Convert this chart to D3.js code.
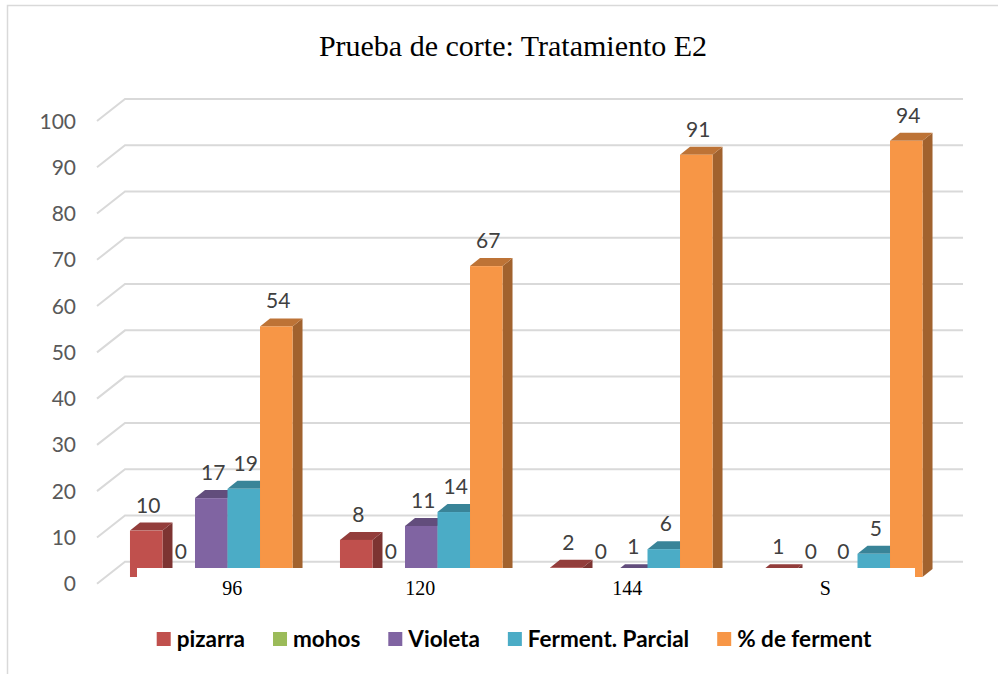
<!DOCTYPE html>
<html>
<head>
<meta charset="utf-8">
<script src="https://cdn.jsdelivr.net/npm/d3@7"></script>
<style>
  body { margin: 0; background: #fff; }
</style>
</head>
<body>
<script>
var width = 998,
    height = 674;

// data
var categories = ["96", "120", "144", "S"];
var series = ["pizarra", "mohos", "Violeta", "Ferment. Parcial", "% de ferment"];
var colors = ["#C0504D", "#9BBB59", "#8064A2", "#4BACC6", "#F79646"];
var pizarra = [10, 8, 2, 1];
var mohos = [0, 0, 0, 0];
var violeta = [17, 11, 1, 0];
var fermParcial = [19, 14, 6, 5];
var fermento = [54, 67, 91, 94];
var yTicks = [0, 10, 20, 30, 40, 50, 60, 70, 80, 90, 100];
var values = [pizarra, mohos, violeta, fermParcial, fermento];

// fake 3d depth
var wallDx = 28, wallDy = 22,   // back wall -> front edge
    barDx = 10, barDy = 8;      // bar depth

var svg = d3.select("body").append("svg")
    .attr("width", width)
    .attr("height", height)
    .style("font-family", "Lato, 'Noto Sans', sans-serif");

// chart border (left + top visible)
svg.append("path")
    .attr("d", "M7.5," + height + "V5.5H" + width)
    .attr("fill", "none")
    .attr("stroke", "#d9d9d9")
    .attr("stroke-width", 1.5);

svg.append("text")
    .attr("x", 513)
    .attr("y", 56)
    .attr("text-anchor", "middle")
    .style("font-family", "'Liberation Serif', 'Times New Roman', serif")
    .style("font-size", "30px")
    .attr("fill", "#000")
    .text("Prueba de corte: Tratamiento E2");

var yBack = d3.scaleLinear().domain([0, 100]).range([561.7, 99]);
var yBar = d3.scaleLinear().domain([0, 100]).range([577, 113]);

var x0 = d3.scaleBand()
    .domain(categories)
    .range([106.25, 946.25])
    .paddingInner(0.226)
    .paddingOuter(0.113);

var x1 = d3.scaleBand()
    .domain(series)
    .range([0, x0.bandwidth()])
    .padding(0);

var backLeft = 125, backRight = 963;

// gridlines on the back wall plus the diagonal side wall line
var grid = svg.append("g")
    .attr("fill", "none")
    .attr("stroke", "#d9d9d9")
    .attr("stroke-width", 2);

grid.selectAll("path")
    .data(yTicks)
    .enter().append("path")
    .attr("d", function(d) {
        var y = yBack(d);
        return "M" + [backLeft - wallDx, y + wallDy] + "L" + [backLeft, y] + "L" + [backRight, y];
    });

svg.append("g")
    .selectAll("text")
    .data(yTicks)
    .enter().append("text")
    .attr("x", 76)
    .attr("y", function(d) { return yBack(d) + wallDy; })
    .attr("dy", "0.36em")
    .attr("text-anchor", "end")
    .attr("fill", "#595959")
    .style("font-size", "21px")
    .text(function(d) { return d; });

// bars
var rows = [];
categories.forEach(function(c, ci) {
    series.forEach(function(s, si) {
        rows.push({ cat: c, ser: s, si: si, v: values[si][ci] });
    });
});

var bw = x1.bandwidth();

var bars = svg.append("g")
    .selectAll("g")
    .data(rows)
    .enter().append("g")
    .attr("transform", function(d) {
        return "translate(" + (x0(d.cat) + x1(d.ser)) + ",0)";
    });

bars.filter(function(d) { return d.v > 0; }).each(function(d) {
    var g = d3.select(this),
        top = yBar(d.v),
        base = yBar(0),
        c = d3.color(colors[d.si]);

    // side face
    g.append("path")
        .attr("d", "M" + [bw, top] + "L" + [bw + barDx, top - barDy] +
            "L" + [bw + barDx, base - barDy] + "L" + [bw, base] + "Z")
        .attr("fill", c.darker(1.2));
    // top face
    g.append("path")
        .attr("d", "M" + [0, top] + "L" + [barDx, top - barDy] +
            "L" + [bw + barDx, top - barDy] + "L" + [bw, top] + "Z")
        .attr("fill", c.darker(0.75));
    // front face
    g.append("rect")
        .attr("x", 0)
        .attr("y", top)
        .attr("width", bw)
        .attr("height", base - top)
        .attr("fill", c);
});

// category axis label box covers the bar bottoms (as in the original)
svg.append("rect")
    .attr("x", 137)
    .attr("y", 568)
    .attr("width", 915 - 137)
    .attr("height", 40)
    .attr("fill", "#fff");

bars.append("text")
    .attr("x", bw / 2 + 2)
    .attr("y", function(d) { return yBar(d.v) - 18; })
    .attr("text-anchor", "middle")
    .attr("fill", "#404040")
    .style("font-size", "21px")
    .text(function(d) { return d.v; });

var catNudge = [21, -1, -4, -16];
svg.append("g")
    .selectAll("text")
    .data(categories)
    .enter().append("text")
    .attr("x", function(d, i) { return x0(d) + x0.bandwidth() / 2 + catNudge[i]; })
    .attr("y", 595)
    .attr("text-anchor", "middle")
    .attr("fill", "#000")
    .style("font-family", "'Liberation Serif', 'Times New Roman', serif")
    .style("font-size", "20px")
    .text(function(d) { return d; });

// legend
var legend = svg.append("g");
var items = legend.selectAll("g")
    .data(series)
    .enter().append("g");

items.append("rect")
    .attr("width", 14)
    .attr("height", 14)
    .attr("y", -7)
    .attr("fill", function(d, i) { return colors[i]; });

items.append("text")
    .attr("x", 20)
    .attr("dy", "0.36em")
    .attr("fill", "#000")
    .style("font-size", "22.5px")
    .style("font-weight", "bold")
    .text(function(d) { return d; });

var lx = 0, gap = 28;
items.each(function() {
    var g = d3.select(this);
    g.attr("transform", "translate(" + lx + ",0)");
    lx += 20 + g.select("text").node().getComputedTextLength() + gap;
});
lx -= gap;
legend.attr("transform", "translate(" + (514 - lx / 2) + ",639)");
</script>
</body>
</html>
